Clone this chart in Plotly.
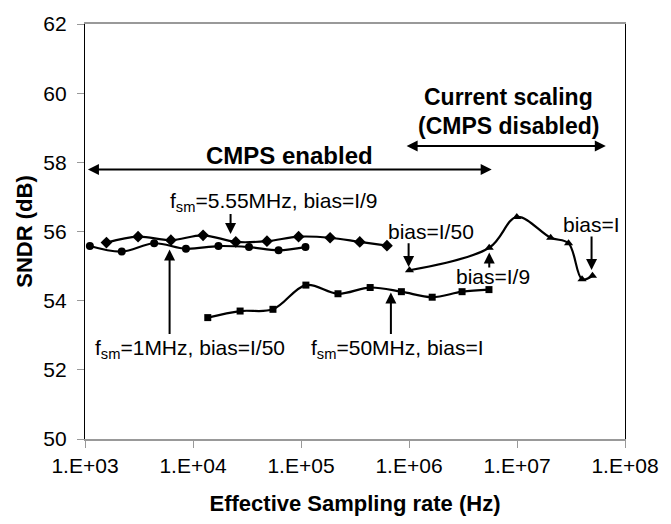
import math
import plotly.graph_objects as go

# fsm=1MHz, bias=I/50 (circles)
x_1mhz = [1.11e3, 2.19e3, 4.37e3, 8.6e3, 1.72e4, 3.3e4, 6.2e4, 1.1e5]
y_1mhz = [55.58, 55.42, 55.66, 55.50, 55.58, 55.55, 55.46, 55.55]

# fsm=5.55MHz, bias=I/9 (diamonds)
x_555mhz = [1.58e3, 3.1e3, 6.24e3, 1.24e4, 2.49e4, 4.84e4, 9.5e4, 1.86e5, 3.5e5, 6.25e5]
y_555mhz = [55.68, 55.85, 55.75, 55.89, 55.70, 55.72, 55.85, 55.82, 55.70, 55.59]

# fsm=50MHz, bias=I (squares)
x_50mhz = [1.37e4, 2.73e4, 5.5e4, 1.11e5, 2.2e5, 4.37e5, 8.5e5, 1.64e6, 3.1e6, 5.5e6]
y_50mhz = [53.51, 53.70, 53.75, 54.45, 54.20, 54.38, 54.26, 54.10, 54.26, 54.32]

# Current scaling, CMPS disabled (triangles)
x_cs = [1.01e6, 5.53e6, 9.96e6, 2.05e7, 3.0e7, 4.0e7, 5.0e7]
y_cs = [54.88, 55.53, 56.42, 55.82, 55.66, 54.62, 54.72]

x_tickvals = [1e3, 1e4, 1e5, 1e6, 1e7, 1e8]
x_ticktext = ["1.E+03", "1.E+04", "1.E+05", "1.E+06", "1.E+07", "1.E+08"]
y_tickvals = [50, 52, 54, 56, 58, 60, 62]

FONT = "Liberation Sans, Arial, sans-serif"

fig = go.Figure()
series = [
    (x_1mhz, y_1mhz, "circle", 8),
    (x_555mhz, y_555mhz, "diamond", 9),
    (x_50mhz, y_50mhz, "square", 7),
    (x_cs, y_cs, "triangle-up", 8),
]
for xs, ys, sym, sz in series:
    fig.add_trace(go.Scatter(
        x=xs, y=ys, mode="lines+markers",
        line=dict(color="black", width=2.2, shape="spline", smoothing=1.0),
        marker=dict(symbol=sym, size=sz, color="black"),
        showlegend=False,
    ))


def px2x(p):
    return 10 ** (3 + (p - 85) / 109.8)


def px2y(p):
    return 62 - (p - 17) / 35.42


def arrow(x_tip, y_tip, x_tail, y_tail, both=False):
    fig.add_annotation(
        x=math.log10(x_tip), y=y_tip, xref="x", yref="y",
        ax=math.log10(x_tail), ay=y_tail, axref="x", ayref="y",
        text="", showarrow=True, arrowhead=2, arrowsize=1.1, arrowwidth=2,
        arrowcolor="black", arrowside="end+start" if both else "end",
        startarrowhead=2, startarrowsize=1.1,
    )


def label(x, y, text, bold=False, size=21, yanchor="middle"):
    fig.add_annotation(
        x=math.log10(x), y=y, xref="x", yref="y",
        text=("<b>%s</b>" % text) if bold else text, yanchor=yanchor,
        showarrow=False, font=dict(family=FONT, size=size, color="black"),
        borderpad=0,
    )


# Text labels
label(px2x(277), px2y(199), "f<sub>sm</sub>=5.55MHz, bias=I/9")
label(px2x(192), px2y(350), "f<sub>sm</sub>=1MHz, bias=I/50")
label(px2x(403), px2y(350), "f<sub>sm</sub>=50MHz, bias=I")
label(px2x(437), px2y(230), "bias=I/50")
label(px2x(500), px2y(276), "bias=I/9")
label(px2x(600), px2y(222), "bias=I")
label(px2x(293), px2y(152), "CMPS enabled", bold=True, size=24)
label(px2x(516), px2y(106), "Current scaling", bold=True, size=23, yanchor="bottom")
label(px2x(516), px2y(107), "(CMPS disabled)", bold=True, size=23, yanchor="top")

# Arrows
arrow(px2x(233), px2y(232), px2x(233), px2y(210))
arrow(px2x(171), px2y(248), px2x(171), px2y(336))
arrow(px2x(396), px2y(292), px2x(396), px2y(336))
arrow(px2x(414), px2y(266), px2x(414), px2y(240))
arrow(px2x(496), px2y(251), px2x(496), px2y(268))
arrow(px2x(600), px2y(269), px2x(600), px2y(233))
arrow(px2x(88), px2y(166), px2x(500), px2y(166), both=True)
arrow(px2x(412), px2y(142), px2x(616), px2y(142), both=True)

fig.update_layout(
    width=671, height=524,
    margin=dict(l=85, r=37, t=17, b=82),
    paper_bgcolor="white", plot_bgcolor="white",
    font=dict(family=FONT, size=21, color="black"),
    xaxis=dict(
        type="log", range=[3, 8], tickvals=x_tickvals, ticktext=x_ticktext,
        showgrid=False, zeroline=False, showline=True, mirror=True,
        linecolor="#999999", linewidth=1.5,
        ticks="outside", ticklen=7, tickcolor="#999999", tickwidth=1,
        tickfont=dict(family=FONT, size=21, color="black"),
        title=dict(text="<b>Effective Sampling rate (Hz)</b>",
                   font=dict(family=FONT, size=22), standoff=20),
    ),
    yaxis=dict(
        range=[50, 62], tickvals=y_tickvals,
        showgrid=False, zeroline=False, showline=True, mirror=True,
        linecolor="black", linewidth=1.3,
        ticks="outside", ticklen=7, tickcolor="#999999", tickwidth=1,
        tickfont=dict(family=FONT, size=21, color="black"),
        ticklabelstandoff=6,
        title=dict(text="<b>SNDR (dB)</b>", font=dict(family=FONT, size=22), standoff=4),
    ),
)

fig.write_html("out.html")
